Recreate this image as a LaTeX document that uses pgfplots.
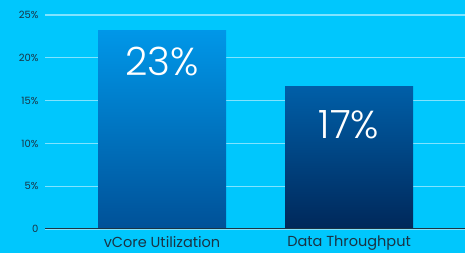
\documentclass[border=0pt]{standalone}
\usepackage{pgfplots}
\pgfplotsset{compat=1.18}
\usepackage{fontspec}
\setmainfont{Poppins}
\newfontfamily\lightfont{Poppins Light}
\definecolor{bg}{HTML}{00C7FD}
\definecolor{gridc}{HTML}{80E3FF}
\definecolor{txt}{HTML}{1A3344}
\definecolor{aTop}{HTML}{0097E8}
\definecolor{aBot}{HTML}{005198}
\definecolor{bTop}{HTML}{005FA8}
\definecolor{bBot}{HTML}{00285A}
\begin{document}
\begin{tikzpicture}[x=1pt,y=1pt]
\fill[bg] (-45,-24) rectangle (420,229);
\useasboundingbox (-45,-24) rectangle (420,229);
\begin{axis}[
  at={(0,0)}, anchor=south west,
  scale only axis, width=420pt, height=214pt,
  xmin=-0.626, xmax=1.62, ymin=0, ymax=25,
  axis line style={draw=none},
  axis x line*=bottom,
  ytick={0,5,10,15,20,25},
  yticklabels={0,5\%,10\%,15\%,20\%,25\%},
  xtick={0,1}, xticklabels={vCore Utilization,Data Throughput},
  major tick length=0pt,
  ymajorgrids, grid style={gridc, line width=1.2pt},
  yticklabel style={font=\fontsize{10}{11}\selectfont, text=txt, xshift=-3pt},
  xticklabel style={font=\fontsize{14.5}{15}\selectfont, text=txt, yshift=-3.5pt},
  /pgf/number format/assume math mode=true,
  ybar, bar width=0.684, bar shift=0pt,
  clip=false,
]
\addplot[draw=none, top color=aTop, bottom color=aBot] coordinates {(0,23.2)};
\addplot[draw=none, top color=bTop, bottom color=bBot] coordinates {(1,16.7)};
\draw[txt, line width=1pt] (axis cs:-0.626,0) -- (axis cs:1.62,0);
\node[text=white, font=\lightfont\fontsize{39}{40}\selectfont] at (axis cs:0,19.6) {23\%};
\node[text=white, font=\lightfont\fontsize{39}{40}\selectfont] at (axis cs:1,12.2) {17\%};
\end{axis}
\end{tikzpicture}
\end{document}
